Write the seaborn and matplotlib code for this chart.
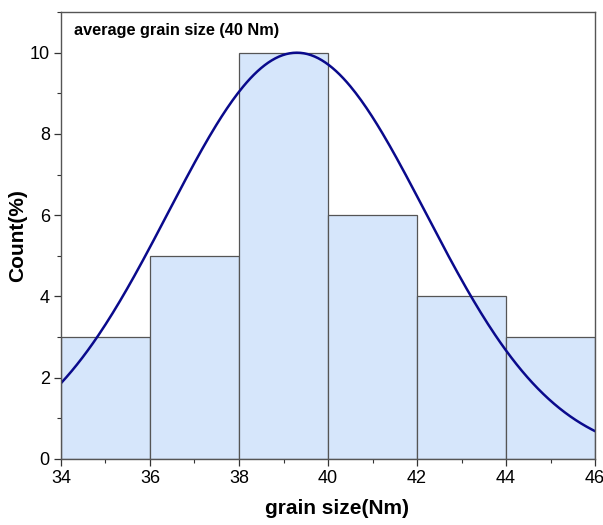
import numpy as np
import matplotlib
matplotlib.use("Agg")
import matplotlib.pyplot as plt
import seaborn as sns
from matplotlib.ticker import MultipleLocator

# histogram data
bin_edges = [34, 36, 38, 40, 42, 44, 46]
bin_centers = [35, 37, 39, 41, 43, 45]
counts = [3, 5, 10, 6, 4, 3]

# fitted normal curve parameters
fit_mean = 39.3
fit_sigma = 2.89
fit_peak = 10.0

sns.set_style("ticks")
plt.rcParams['font.family'] = ['Liberation Sans', 'DejaVu Sans']

fig = plt.figure(figsize=(6.03, 5.25), dpi=100)
ax = fig.add_axes([0.101, 0.126, 0.886, 0.851])

sns.histplot(x=bin_centers, weights=counts, bins=bin_edges, ax=ax,
             color="#d6e6fb", edgecolor="#555555", linewidth=0.9, alpha=1)

xs = np.linspace(34, 46, 300)
ys = fit_peak * np.exp(-(xs - fit_mean) ** 2 / (2 * fit_sigma ** 2))
sns.lineplot(x=xs, y=ys, ax=ax, color="#0a0a8c", linewidth=1.8)

ax.set_xlim(34, 46)
ax.set_ylim(0, 11)
ax.xaxis.set_major_locator(MultipleLocator(2))
ax.xaxis.set_minor_locator(MultipleLocator(1))
ax.yaxis.set_major_locator(MultipleLocator(2))
ax.yaxis.set_minor_locator(MultipleLocator(1))
ax.tick_params(which='major', length=5, width=0.9, labelsize=13,
               direction='out', labelcolor='black', color='#333333', pad=3)
ax.tick_params(which='minor', length=3, width=0.8, direction='out', color='#333333')
ax.tick_params(top=False, right=False, which='both')

for s in ax.spines.values():
    s.set_color("#555555")
    s.set_linewidth(1.0)

ax.set_xlabel("grain size(Nm)", fontsize=15, fontweight='bold', labelpad=9, color='black')
ax.set_ylabel("Count(%)", fontsize=15, fontweight='bold', labelpad=2, color='black')
ax.xaxis.label.set_x(0.517)

ax.text(34.3, 10.55, "average grain size (40 Nm)", fontsize=11.7,
        fontweight='bold', va='center', ha='left', color='black')

fig.savefig("out.png", dpi=100)
